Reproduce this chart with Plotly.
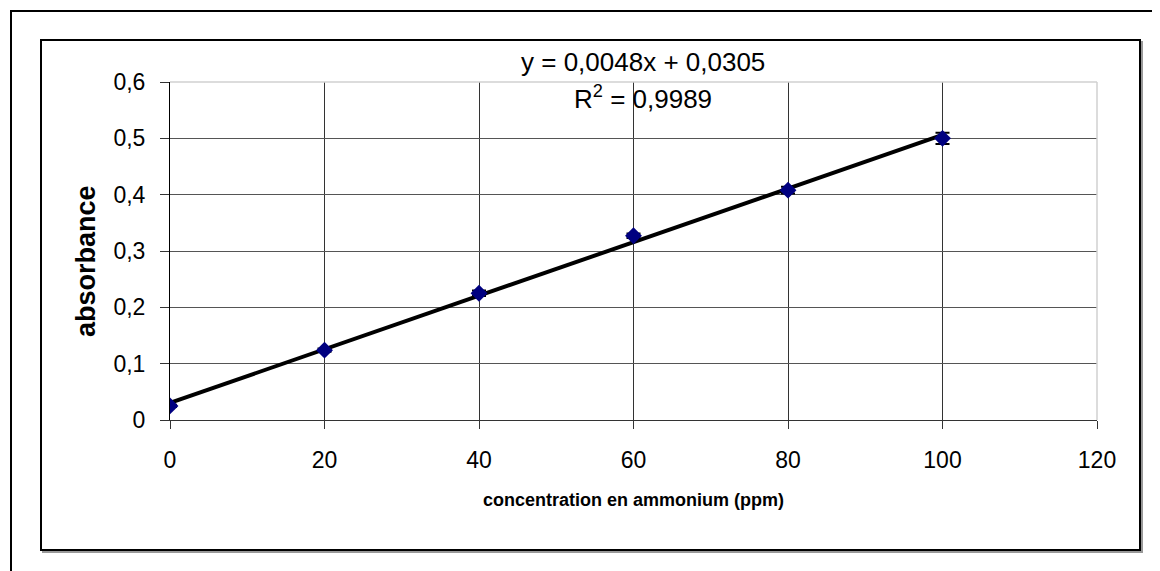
import numpy as np
import plotly.graph_objects as go

# ---- data ----
concentration = [0, 20, 40, 60, 80, 100]
absorbance = [0.025, 0.124, 0.225, 0.327, 0.408, 0.500]
abs_error = [0.002, 0.003, 0.005, 0.004, 0.006, 0.010]
x_ticks = [0, 20, 40, 60, 80, 100, 120]
y_ticks = [0, 0.1, 0.2, 0.3, 0.4, 0.5, 0.6]
equation_text = "y = 0,0048x + 0,0305"
r2_text = "R<sup>2</sup> = 0,9989"
x_title = "concentration en ammonium (ppm)"
y_title = "absorbance"

# linear trendline fitted from the data
slope, intercept = np.polyfit(concentration, absorbance, 1)
trend_x = [min(concentration), max(concentration)]
trend_y = [slope * v + intercept for v in trend_x]

W, H = 1160, 571
OFF = 8  # page body margin
# plot area in page pixels: x 170..1097, y 82..420
L = 170 - OFF
T = 82 - OFF
R = W - (1097 - OFF)
B = H - (420 - OFF)
PW, PH = W - L - R, H - T - B


def px(xp):
    return (xp - OFF - L) / PW


def py(yp):
    return (H - B - (yp - OFF)) / PH


FONT = "Liberation Sans, Arial, sans-serif"

fig = go.Figure()
fig.add_trace(go.Scatter(
    x=trend_x, y=trend_y, mode="lines",
    line=dict(color="black", width=4), showlegend=False, hoverinfo="skip"))
fig.add_trace(go.Scatter(
    x=concentration, y=absorbance, mode="markers",
    marker=dict(symbol="diamond", size=13, color="#000080",
                line=dict(width=0)),
    error_y=dict(type="data", array=abs_error, visible=True,
                 color="black", thickness=2, width=7),
    showlegend=False))

shapes = [
    # outer frame (extends past the picture right/bottom)
    dict(type="rect", xref="paper", yref="paper",
         x0=px(11), y0=py(600), x1=px(1190), y1=py(11),
         line=dict(color="black", width=2), layer="below"),
    # inner chart-area shadow
    dict(type="rect", xref="paper", yref="paper",
         x0=px(43), y0=py(552), x1=px(1142), y1=py(42),
         line=dict(color="#999999", width=2), layer="below"),
    # inner chart-area frame
    dict(type="rect", xref="paper", yref="paper",
         x0=px(41), y0=py(550), x1=px(1140), y1=py(40),
         fillcolor="white",
         line=dict(color="black", width=2), layer="below"),
    # light plot-area border on top and right
    dict(type="line", xref="x domain", yref="y domain",
         x0=0, y0=1, x1=1, y1=1, line=dict(color="#d0d0d0", width=1.5)),
    dict(type="line", xref="x domain", yref="y domain",
         x0=1, y0=0, x1=1, y1=1, line=dict(color="#d0d0d0", width=1.5)),
]

annotations = [
    dict(text=equation_text, xref="paper", yref="paper",
         x=px(643), y=py(62), showarrow=False, xanchor="center",
         yanchor="middle", font=dict(family=FONT, size=26, color="black")),
    dict(text=r2_text, xref="paper", yref="paper",
         x=px(643), y=py(97), showarrow=False, xanchor="center",
         yanchor="middle", font=dict(family=FONT, size=26, color="black")),
    dict(text="<b>" + x_title + "</b>", xref="paper", yref="paper",
         x=px(633), y=py(500), showarrow=False, xanchor="center",
         yanchor="middle", font=dict(family=FONT, size=18, color="black")),
    dict(text="<b>" + y_title + "</b>", xref="paper", yref="paper",
         x=px(86), y=py(261), showarrow=False, xanchor="center",
         yanchor="middle", textangle=-90,
         font=dict(family=FONT, size=27, color="black")),
]

fig.update_layout(
    width=W, height=H,
    margin=dict(l=L, r=R, t=T, b=B, pad=0),
    paper_bgcolor="white", plot_bgcolor="rgba(0,0,0,0)",
    separators=", ",
    font=dict(family=FONT, size=23, color="black"),
    shapes=shapes, annotations=annotations,
    xaxis=dict(range=[0, 120], tickvals=x_ticks, showgrid=True,
               gridcolor="#333333", gridwidth=1, zeroline=False,
               showline=True, linecolor="#333333", linewidth=1,
               ticks="outside", ticklen=8, tickcolor="#333333",
               tickfont=dict(size=23), ticklabelstandoff=11),
    yaxis=dict(range=[0, 0.6], tickvals=y_ticks, showgrid=True,
               gridcolor="#555555", gridwidth=1, zeroline=False,
               showline=True, linecolor="black", linewidth=1,
               ticks="outside", ticklen=9, tickcolor="#333333",
               tickfont=dict(size=23), ticklabelstandoff=10,
               tickformat=".1~f"),
)

fig.write_html("out.html")
